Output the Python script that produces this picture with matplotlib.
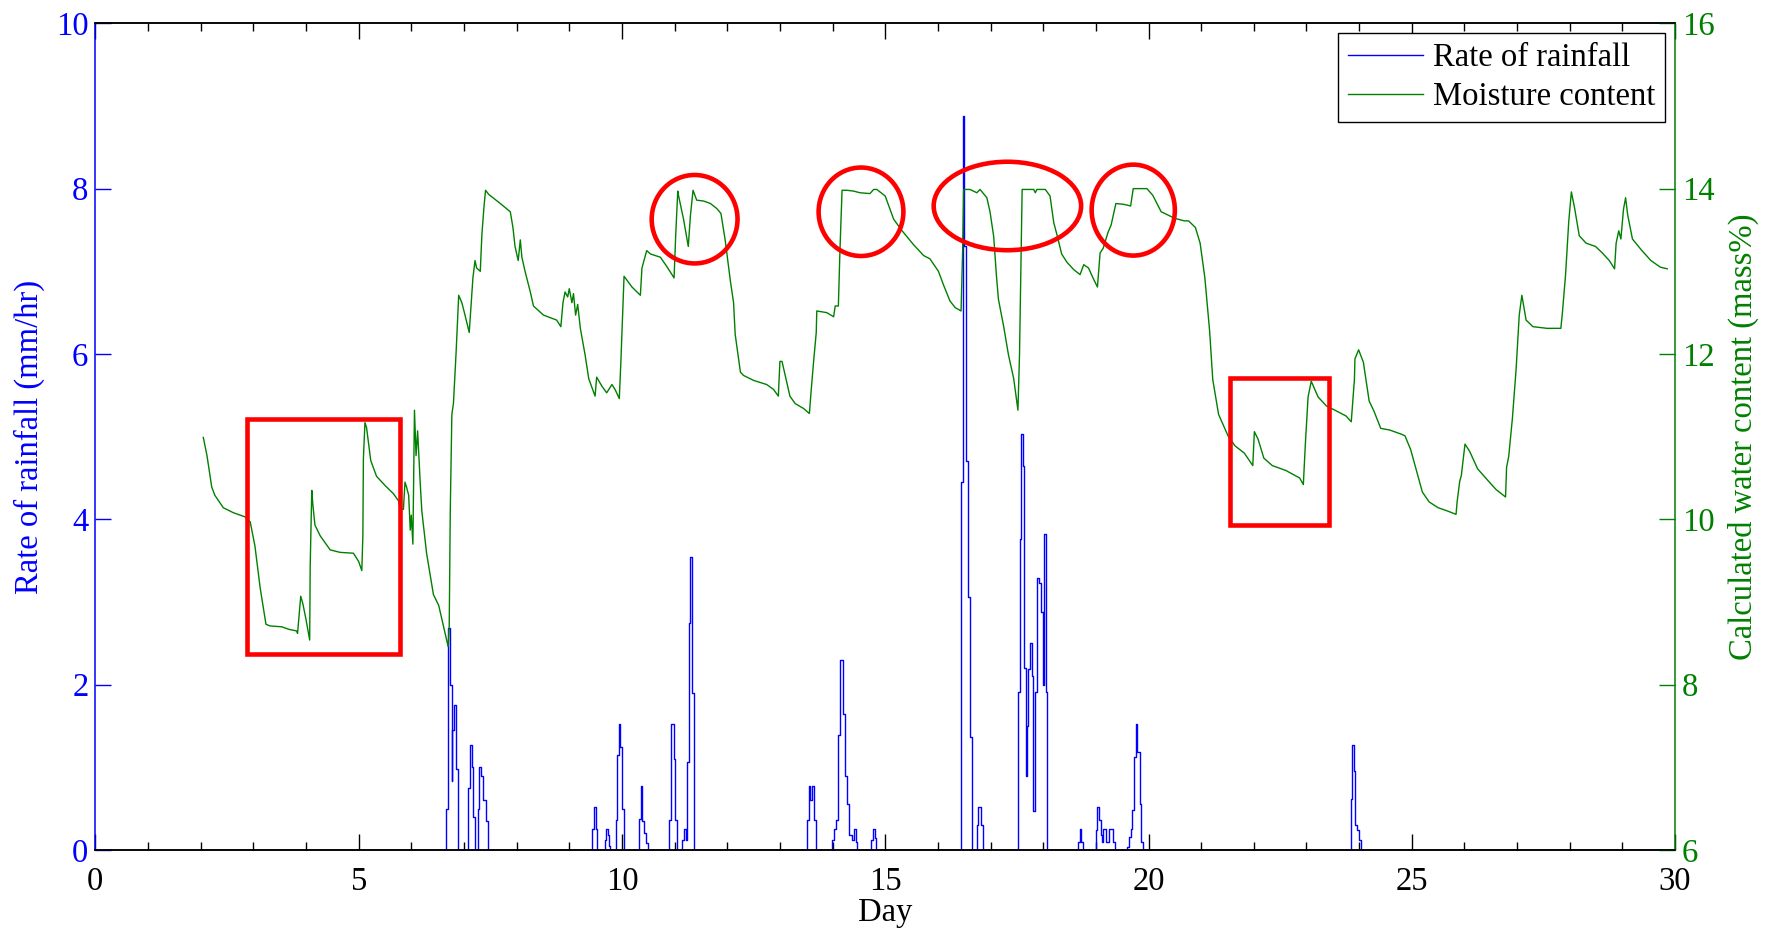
import matplotlib
matplotlib.use("Agg")
import matplotlib.pyplot as plt
from matplotlib.patches import Rectangle, Ellipse
from matplotlib.ticker import MultipleLocator

plt.rcParams['font.family'] = ['Liberation Serif', 'DejaVu Serif']

# rainfall rate (mm/hr), hourly steps
rain_day = [2.0,
            6.66, 6.69, 6.74, 6.77, 6.78, 6.81, 6.84, 6.89,
            7.085, 7.12, 7.15, 7.18, 7.21, 7.26, 7.29, 7.33, 7.37, 7.41, 7.45,
            9.44, 9.46, 9.50, 9.52,
            9.67, 9.70, 9.73, 9.76, 9.78,
            9.88, 9.91, 9.94, 9.97, 10.0, 10.04,
            10.33, 10.36, 10.39, 10.42, 10.46, 10.50,
            10.90, 10.94, 10.98, 11.01, 11.04,
            11.14, 11.18, 11.21, 11.24, 11.27, 11.30, 11.33, 11.37,
            13.51, 13.55, 13.58, 13.61, 13.65, 13.69,
            13.99, 14.03, 14.07, 14.11, 14.15, 14.19, 14.24, 14.28, 14.32, 14.36, 14.40, 14.44, 14.47,
            14.73, 14.76, 14.80, 14.83,
            16.44, 16.47, 16.50, 16.53, 16.57, 16.61, 16.65,
            16.74, 16.77, 16.81, 16.85,
            17.53, 17.56, 17.58, 17.61, 17.63, 17.67, 17.70, 17.72, 17.75, 17.78, 17.81, 17.85,
            17.88, 17.92, 17.96, 18.0, 18.02, 18.05, 18.08,
            18.67, 18.69, 18.72, 18.75,
            19.0, 19.03, 19.06, 19.09, 19.11, 19.14, 19.17, 19.2, 19.24, 19.28, 19.32, 19.36,
            19.60, 19.63, 19.66, 19.69, 19.72, 19.76, 19.79, 19.83, 19.86, 19.89,
            23.84, 23.87, 23.90, 23.93, 23.96, 23.99, 24.03,
            30.0]
rain_rate = [0.0,
             0.5, 2.68, 2.0, 0.83, 1.45, 1.75, 0.98, 0.0,
             0.75, 1.27, 1.0, 0.4, 0.0, 0.5, 1.0, 0.9, 0.6, 0.35, 0.0,
             0.25, 0.52, 0.25, 0.0,
             0.12, 0.26, 0.18, 0.05, 0.0,
             0.36, 1.15, 1.53, 1.25, 0.5, 0.0,
             0.37, 0.78, 0.35, 0.2, 0.08, 0.0,
             0.36, 1.53, 1.1, 0.36, 0.0,
             0.12, 0.26, 0.12, 1.07, 2.75, 3.55, 1.9, 0.0,
             0.36, 0.77, 0.6, 0.77, 0.36, 0.0,
             0.12, 0.26, 0.36, 1.39, 2.30, 1.65, 0.89, 0.56, 0.18, 0.12, 0.26, 0.1, 0.0,
             0.12, 0.26, 0.14, 0.0,
             4.45, 8.88, 7.3, 4.7, 3.06, 1.37, 0.0,
             0.3, 0.52, 0.3, 0.0,
             1.91, 3.76, 5.03, 4.64, 2.2, 0.9, 1.5, 2.19, 2.5, 2.11, 0.47, 1.91,
             3.29, 3.23, 2.88, 2.0, 3.82, 1.91, 0.0,
             0.1, 0.26, 0.1, 0.0,
             0.24, 0.52, 0.36, 0.18, 0.1, 0.26, 0.26, 0.1, 0.26, 0.26, 0.1, 0.0,
             0.04, 0.16, 0.26, 0.48, 1.13, 1.53, 1.19, 0.56, 0.1, 0.0,
             0.62, 1.27, 0.95, 0.3, 0.24, 0.12, 0.0,
             0.0]

# calculated moisture content (mass%)
moist_day = [2.05, 2.12, 2.21, 2.27, 2.43, 2.62, 2.84, 2.94, 3.03, 3.13, 3.24, 3.32,
             3.54, 3.67, 3.82, 3.84, 3.90, 3.94, 4.00, 4.07, 4.08, 4.11, 4.13, 4.17,
             4.27, 4.46, 4.65, 4.90, 5.00, 5.06, 5.08, 5.09, 5.12, 5.15, 5.23, 5.34,
             5.50, 5.66, 5.76, 5.79, 5.85, 5.88, 5.91, 5.95, 5.98, 6.00, 6.03, 6.06,
             6.09, 6.12, 6.17, 6.20, 6.29, 6.42, 6.52, 6.61, 6.70, 6.72, 6.74, 6.77,
             6.80, 6.85, 6.90, 6.96, 7.02, 7.10, 7.17, 7.21, 7.24, 7.31, 7.34, 7.38,
             7.41, 7.47, 7.69, 7.88, 7.93, 7.97, 8.03, 8.07, 8.10, 8.16, 8.26, 8.32,
             8.51, 8.76, 8.84, 8.88, 8.92, 8.97, 9.00, 9.05, 9.08, 9.12, 9.16, 9.21,
             9.30, 9.37, 9.49, 9.52, 9.62, 9.71, 9.81, 9.87, 9.95, 9.98, 10.02, 10.04,
             10.19, 10.35, 10.38, 10.47, 10.54, 10.73, 10.85, 10.99, 11.02, 11.06,
             11.07, 11.17, 11.26, 11.30, 11.35, 11.42, 11.55, 11.68, 11.80, 11.88,
             11.96, 12.06, 12.12, 12.15, 12.25, 12.31, 12.50, 12.75, 12.88, 12.97,
             13.00, 13.04, 13.10, 13.19, 13.29, 13.45, 13.56, 13.59, 13.64, 13.69,
             13.70, 13.89, 14.02, 14.05, 14.11, 14.14, 14.18, 14.27, 14.40, 14.52,
             14.71, 14.78, 14.84, 15.00, 15.16, 15.32, 15.54, 15.73, 15.85, 16.01,
             16.11, 16.23, 16.33, 16.44, 16.47, 16.49, 16.61, 16.74, 16.80, 16.93,
             16.99, 17.06, 17.11, 17.15, 17.25, 17.34, 17.44, 17.52, 17.55, 17.58,
             17.60, 17.82, 17.85, 17.88, 18.04, 18.13, 18.20, 18.27, 18.35, 18.45,
             18.58, 18.70, 18.77, 18.86, 18.96, 19.03, 19.08, 19.14, 19.23, 19.29,
             19.38, 19.53, 19.66, 19.71, 19.97, 20.08, 20.24, 20.37, 20.50, 20.68,
             20.76, 20.89, 20.98, 21.07, 21.16, 21.22, 21.33, 21.51, 21.64, 21.82,
             21.98, 22.01, 22.08, 22.19, 22.35, 22.61, 22.87, 22.94, 22.98, 23.03,
             23.09, 23.22, 23.38, 23.57, 23.75, 23.85, 23.91, 23.92, 23.99, 24.08,
             24.19, 24.28, 24.41, 24.58, 24.80, 24.87, 24.98, 25.07, 25.20, 25.33,
             25.50, 25.68, 25.84, 25.86, 25.91, 25.94, 26.01, 26.10, 26.25, 26.43,
             26.60, 26.78, 26.80, 26.84, 26.91, 26.98, 27.04, 27.09, 27.17, 27.30,
             27.57, 27.83, 27.86, 27.92, 27.98, 28.03, 28.09, 28.18, 28.31, 28.49,
             28.62, 28.75, 28.85, 28.88, 28.93, 28.97, 29.02, 29.06, 29.10, 29.19,
             29.37, 29.54, 29.72, 29.85]
moist_pct = [10.99, 10.77, 10.39, 10.29, 10.14, 10.08, 10.03, 9.97, 9.68, 9.17, 8.73, 8.71,
             8.70, 8.67, 8.65, 8.62, 9.07, 8.98, 8.79, 8.54, 9.44, 10.35, 10.18, 9.93,
             9.80, 9.63, 9.60, 9.59, 9.49, 9.38, 9.80, 10.73, 11.17, 11.11, 10.71, 10.52,
             10.41, 10.31, 10.22, 10.12, 10.12, 10.45, 10.39, 10.29, 9.87, 10.05, 9.70, 11.32,
             10.77, 11.07, 10.43, 10.10, 9.59, 9.09, 8.96, 8.71, 8.46, 8.71, 10.10, 11.27,
             11.40, 12.01, 12.71, 12.62, 12.47, 12.26, 12.92, 13.13, 13.04, 13.00, 13.44, 13.78,
             13.98, 13.93, 13.82, 13.72, 13.53, 13.30, 13.13, 13.38, 13.17, 13.00, 12.75, 12.58,
             12.47, 12.41, 12.33, 12.62, 12.75, 12.69, 12.79, 12.62, 12.73, 12.47, 12.60, 12.31,
             11.99, 11.70, 11.49, 11.72, 11.61, 11.53, 11.63, 11.57, 11.46, 11.91, 12.62, 12.94,
             12.81, 12.71, 13.04, 13.25, 13.21, 13.17, 13.06, 12.92, 13.42, 13.97,
             13.93, 13.63, 13.30, 13.67, 13.98, 13.86, 13.85, 13.82, 13.76, 13.70,
             13.38, 12.88, 12.62, 12.24, 11.78, 11.74, 11.68, 11.63, 11.57, 11.49,
             11.91, 11.91, 11.74, 11.49, 11.40, 11.34, 11.28, 11.53, 11.91, 12.26,
             12.52, 12.50, 12.45, 12.58, 12.58, 13.25, 13.98, 13.98, 13.97, 13.95,
             13.94, 13.99, 13.99, 13.91, 13.63, 13.49, 13.32, 13.19, 13.15, 13.00,
             12.83, 12.64, 12.56, 12.52, 13.25, 13.99, 13.99, 13.95, 13.99, 13.89,
             13.72, 13.42, 12.96, 12.66, 12.33, 11.99, 11.70, 11.32, 11.99, 13.17,
             13.99, 13.99, 13.95, 13.99, 13.99, 13.91, 13.59, 13.42, 13.21, 13.11,
             13.02, 12.96, 13.08, 13.04, 12.90, 12.81, 13.22, 13.28, 13.47, 13.56,
             13.82, 13.81, 13.79, 14.00, 14.00, 13.92, 13.72, 13.68, 13.64, 13.61,
             13.61, 13.53, 13.34, 12.92, 12.28, 11.69, 11.27, 11.01, 10.89, 10.80,
             10.65, 11.06, 10.97, 10.74, 10.65, 10.59, 10.50, 10.42, 10.93, 11.48,
             11.67, 11.48, 11.37, 11.31, 11.25, 11.18, 11.69, 11.94, 12.05, 11.90,
             11.43, 11.31, 11.10, 11.08, 11.03, 11.01, 10.84, 10.63, 10.33, 10.21,
             10.14, 10.10, 10.06, 10.21, 10.46, 10.53, 10.91, 10.82, 10.61, 10.48,
             10.36, 10.27, 10.63, 10.76, 11.22, 11.81, 12.47, 12.71, 12.41, 12.33,
             12.31, 12.31, 12.50, 12.96, 13.60, 13.96, 13.77, 13.43, 13.34, 13.30,
             13.22, 13.13, 13.03, 13.34, 13.49, 13.39, 13.75, 13.89, 13.68, 13.39,
             13.25, 13.13, 13.05, 13.03]

BLUE = (0, 0, 1)
GREEN = (0, 0.5, 0)
RED = (1, 0, 0)
FS = 23.5

fig = plt.figure(figsize=(17.79, 9.31), dpi=100)
ax1 = fig.add_axes([0.0536, 0.087, 0.888, 0.888])
ax2 = ax1.twinx()

l1, = ax1.plot(rain_day, rain_rate, color=BLUE, lw=1.0, drawstyle='steps-post')
l2, = ax2.plot(moist_day, moist_pct, color=GREEN, lw=1.0)

ax1.set_xlim(0, 30)
ax1.set_ylim(0, 10)
ax2.set_ylim(6, 16)

ax1.xaxis.set_major_locator(MultipleLocator(5))
ax1.xaxis.set_minor_locator(MultipleLocator(1))
ax1.yaxis.set_major_locator(MultipleLocator(2))
ax2.yaxis.set_major_locator(MultipleLocator(2))

ax1.tick_params(axis='x', which='both', direction='in', top=True, labelsize=FS, pad=12)
ax1.tick_params(axis='x', which='major', length=11.5, width=1)
ax1.tick_params(axis='x', which='minor', length=5.8, width=1)
ax1.tick_params(axis='y', direction='in', length=11.5, width=1, colors=BLUE,
                labelsize=FS, right=False, pad=5)
ax2.tick_params(axis='y', direction='in', length=11.5, width=1, colors=GREEN,
                labelsize=FS, left=False, pad=5)

for sp in ('top', 'bottom'):
    ax1.spines[sp].set_color('black')
    ax2.spines[sp].set_color('black')
ax1.spines['left'].set_color(BLUE)
ax1.spines['right'].set_visible(False)
ax2.spines['left'].set_visible(False)
ax2.spines['right'].set_color(GREEN)
for ax in (ax1, ax2):
    for sp in ax.spines.values():
        sp.set_linewidth(1.1)

ax1.set_xlabel('Day', fontsize=FS, labelpad=0)
ax1.set_ylabel('Rate of rainfall (mm/hr)', fontsize=FS, color=BLUE, labelpad=8)
ax2.set_ylabel('Calculated water content (mass%)', fontsize=FS, color=GREEN, labelpad=9)

# highlighted regions
boxes = [(2.88, 8.37, 5.79, 11.21), (21.55, 9.93, 23.42, 11.71)]
for x0, y0, x1, y1 in boxes:
    ax2.add_patch(Rectangle((x0, y0), x1 - x0, y1 - y0, fill=False,
                            edgecolor=RED, lw=3.3, zorder=5))
rings = [(11.38, 13.63, 1.63, 1.07), (14.54, 13.72, 1.61, 1.07),
         (17.32, 13.79, 2.80, 1.07), (19.71, 13.74, 1.58, 1.10)]
for cx, cy, w, h in rings:
    ax2.add_patch(Ellipse((cx, cy), w, h, fill=False, edgecolor=RED, lw=3.3, zorder=5))

leg = ax2.legend([l1, l2], ['Rate of rainfall', 'Moisture content'], loc='upper right',
                 fontsize=FS, fancybox=False, edgecolor='black', framealpha=1,
                 handlelength=2.3, borderaxespad=0.3, labelspacing=0.25,
                 borderpad=0.3, handletextpad=0.3)
leg.get_frame().set_linewidth(1.0)

fig.savefig('out.png', dpi=100)
